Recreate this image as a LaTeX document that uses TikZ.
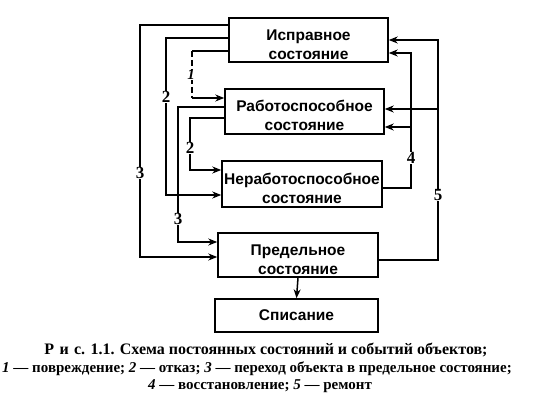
\documentclass[tikz,border=0pt]{standalone}
\usepackage{fontspec}
\setmainfont{Liberation Serif}
\newfontfamily\boxfont{Liberation Sans}
\usetikzlibrary{arrows.meta}
\newcommand{\twolines}[2]{\rule{0pt}{20pt}#1\\#2}
\begin{document}
\begin{tikzpicture}[x=1pt,y=-1pt,
  statebox/.style={draw,line width=1.5pt,rectangle,inner sep=0pt,align=center,
    font=\boxfont\bfseries\fontsize{15.5}{19}\selectfont},
  conn/.style={line width=1.5pt},
  arr/.style={conn,-{Stealth[length=9pt,width=7pt]}},
  lbl/.style={fill=white,inner sep=0.5pt,font=\bfseries\fontsize{17}{17}\selectfont},
  captext/.style={inner sep=0pt,anchor=center}]
\useasboundingbox (0,0) rectangle (534,411);
% state boxes
\node[statebox,minimum width=159pt,minimum height=44pt] (b1) at (308.5,40) {\twolines{Исправное}{состояние}};
\node[statebox,minimum width=159pt,minimum height=45pt] (b2) at (304.5,111.5) {\twolines{Работоспособное}{состояние}};
\node[statebox,minimum width=160pt,minimum height=46pt] (b3) at (302,184) {\twolines{Неработоспособное}{состояние}};
\node[statebox,minimum width=160pt,minimum height=44pt] (b4) at (298,255) {\twolines{Предельное}{состояние}};
\node[statebox,minimum width=163pt,minimum height=33pt] (b5) at (296.5,315.5) {Списание};
% vertical rails
\coordinate (vA) at (140,0);
\coordinate (vB) at (166,0);
\coordinate (vC) at (192,0);
\coordinate (vD) at (178,0);
\coordinate (vE) at (190,0);
\coordinate (v5) at (438,0);
\coordinate (v4) at (411,0);
% left connectors
\draw[arr] ([yshift=15pt]b1.west) -- ([yshift=15pt]b1.west -| vA) -- ([yshift=-2pt]b4.west -| vA) -- ([yshift=-2pt]b4.west);
\draw[arr] ([yshift=2pt]b1.west) -- ([yshift=2pt]b1.west -| vB) -- ([yshift=-11pt]b3.west -| vB) -- ([yshift=-11pt]b3.west);
\draw[conn] ([yshift=-11pt]b1.west) -- ([yshift=-11pt]b1.west -| vC);
\draw[conn,dash pattern=on 6pt off 3pt] ([yshift=-11pt]b1.west -| vC) -- ([yshift=13.5pt]b2.west -| vC);
\draw[arr] ([yshift=13.5pt]b2.west -| vC) -- ([yshift=13.5pt]b2.west);
\draw[arr] ([yshift=4.5pt]b2.west) -- ([yshift=4.5pt]b2.west -| vD) -- ([yshift=13pt]b4.west -| vD) -- ([yshift=13pt]b4.west);
\draw[arr] ([yshift=-6.5pt]b2.west) -- ([yshift=-6.5pt]b2.west -| vE) -- ([yshift=14pt]b3.west -| vE) -- ([yshift=14pt]b3.west);
% right connectors
\draw[arr] ([yshift=-5pt]b4.east) -- ([yshift=-5pt]b4.east -| v5) -- (b1.east -| v5) -- (b1.east);
\draw[arr] ([yshift=2.5pt]b2.east -| v5) -- ([yshift=2.5pt]b2.east);
\draw[arr] ([yshift=-4pt]b3.east) -- ([yshift=-4pt]b3.east -| v4) -- ([yshift=-13pt]b1.east -| v4) -- ([yshift=-13pt]b1.east);
\draw[arr] ([yshift=-15.5pt]b2.east -| v4) -- ([yshift=-15.5pt]b2.east);
% down arrow
\draw[arr] (b4.south) -- (b5.north);
% labels
\node[lbl] (l3a) at (140,173) {3};
\node[lbl] (l2a) at (166,97) {2};
\node[lbl,font=\bfseries\itshape\fontsize{15}{15}\selectfont] (l1) at (191,75) {1};
\node[lbl] (l3b) at (178,219) {3};
\node[lbl] (l2b) at (190,148) {2};
\node[lbl] (l4) at (411,158) {4};
\node[lbl] (l5) at (438,195) {5};
% caption
\node[captext,font=\bfseries\fontsize{16}{16}\selectfont] (c1) at (266,350) {Р\,\,и\,\,с. 1.1. Схема постоянных состояний и событий объектов;};
\node[captext,font=\bfseries\fontsize{15}{15}\selectfont] (c2) at (257,369) {\textit{1} — повреждение; \textit{2} — отказ; \textit{3} — переход объекта в предельное состояние;};
\node[captext,font=\bfseries\fontsize{15}{15}\selectfont] (c3) at (260,386) {\textit{4} — восстановление; \textit{5} — ремонт};
\end{tikzpicture}
\end{document}
